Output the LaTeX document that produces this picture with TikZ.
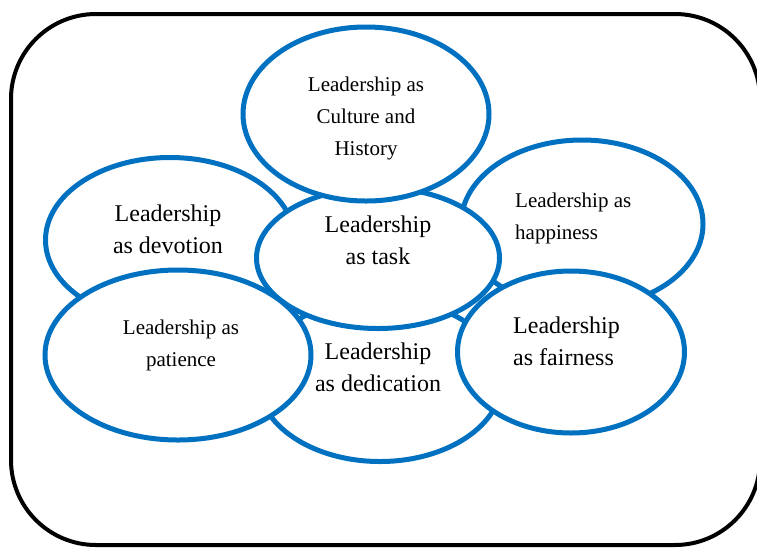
\documentclass[tikz,border=0pt]{standalone}
\usepackage{fontspec}
\setmainfont{Liberation Serif}
\usetikzlibrary{shapes.geometric}
\definecolor{bubbleblue}{RGB}{0,112,192}
\tikzset{
  bubble/.style={ellipse, draw=bubbleblue, line width=5pt, fill=white, inner sep=0pt},
  bigtxt/.style={align=center, font=\fontsize{24}{32}\selectfont},
  smalltxt/.style={align=center, font=\fontsize{21}{32}\selectfont}
}

\begin{document}
\begin{tikzpicture}[x=1pt,y=-1pt]
    \useasboundingbox (0,0) rectangle (757,547);
    \draw[line width=4pt, rounded corners=85pt] (11,14) rectangle (760,545);
    \node[bubble, minimum width=249, minimum height=165] (devotion) at (170,240) {};
    \node[bubble, minimum width=242, minimum height=168] (happiness) at (582,224) {};
    \node[bubble, minimum width=244, minimum height=163] (dedication) at (380,380) {};
    \node[bubble, minimum width=243, minimum height=141] (task) at (378,258) {};
    \node[bubble, minimum width=246, minimum height=174] (culture) at (366,114) {};
    \node[bubble, minimum width=266, minimum height=170] (patience) at (178,355) {};
    \node[bubble, minimum width=227, minimum height=162] (fairness) at (571,352) {};
    \node[smalltxt] (culturetxt) at (366,118) {Leadership as\\Culture and\\History};
    \node[bigtxt] (tasktxt) at (378,240) {Leadership\\as task};
    \node[bigtxt] (devotiontxt) at (168,229) {Leadership\\as devotion};
    \node[smalltxt, align=left, anchor=west, inner sep=0pt] (happinesstxt) at (515,218) {Leadership as\\happiness};
    \node[smalltxt] (patiencetxt) at (181,345) {Leadership as\\patience};
    \node[bigtxt] (dedicationtxt) at (378,367) {Leadership\\as dedication};
    \node[bigtxt, align=left, anchor=west, inner sep=0pt] (fairnesstxt) at (513,341) {Leadership\\as fairness};
  \end{tikzpicture}
\end{document}
